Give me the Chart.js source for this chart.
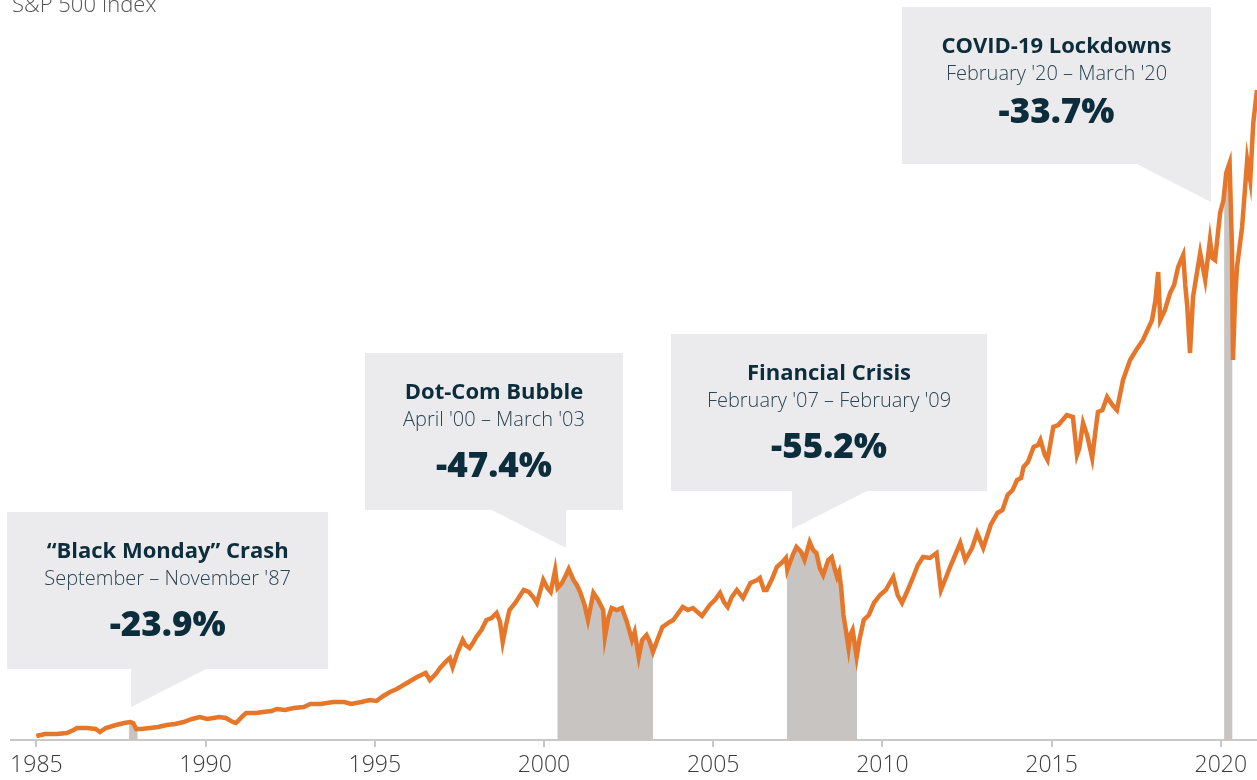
<!DOCTYPE html>
<html>
<head>
<meta charset="utf-8">
<script src="https://cdn.jsdelivr.net/npm/chart.js@4.4.1/dist/chart.umd.min.js"></script>
<style>
  html, body { margin: 0; padding: 0; background: #fff; }
  #wrap { width: 1257px; height: 780px; }
</style>
</head>
<body>
<div id="wrap"><canvas id="spChart" width="1257" height="780"></canvas></div>
<script>
// S&P 500 index level (chart units)
const dates = [1985.00,1985.25,1985.60,1985.90,1986.10,1986.20,1986.50,1986.75,1986.88,1987.05,1987.35,1987.60,1987.77,1987.86,1987.95,
  1988.10,1988.35,1988.60,1988.85,1989.10,1989.35,1989.60,1989.83,1990.05,1990.40,1990.60,1990.80,1990.90,1991.10,1991.20,1991.50,1991.70,1991.95,
  1992.10,1992.35,1992.60,1992.90,1993.10,1993.40,1993.77,1994.10,1994.30,1994.60,1994.85,1995.05,1995.25,1995.45,1995.65,1995.85,
  1996.05,1996.25,1996.50,1996.63,1996.80,1996.93,1997.15,1997.22,1997.30,1997.45,1997.60,1997.68,1997.80,1997.90,
  1998.00,1998.15,1998.30,1998.45,1998.60,1998.70,1998.78,1998.88,1998.98,1999.15,1999.40,1999.55,1999.68,1999.79,1999.98,
  2000.10,2000.20,2000.33,2000.40,2000.53,2000.65,2000.73,2000.87,2000.97,2001.07,2001.20,2001.30,2001.46,2001.60,2001.75,2001.80,2001.90,
  2002.00,2002.15,2002.30,2002.45,2002.60,2002.68,2002.80,2002.90,2003.03,2003.13,2003.22,2003.35,2003.50,2003.72,2003.82,
  2004.10,2004.25,2004.40,2004.67,2004.90,2005.05,2005.20,2005.32,2005.43,2005.55,2005.70,2005.88,
  2006.10,2006.30,2006.38,2006.50,2006.58,2006.75,2006.88,2007.05,2007.15,2007.19,2007.35,2007.46,2007.60,2007.70,2007.85,2007.95,
  2008.05,2008.15,2008.25,2008.40,2008.50,2008.60,2008.66,2008.72,2008.78,2008.85,2008.92,2009.00,2009.05,2009.12,2009.24,2009.32,
  2009.45,2009.60,2009.75,2009.93,2010.10,2010.32,2010.45,2010.58,2010.75,2010.91,2011.05,2011.20,2011.40,2011.60,2011.73,2011.85,
  2012.00,2012.30,2012.45,2012.65,2012.80,2012.98,2013.20,2013.40,2013.55,2013.70,2013.85,2013.98,
  2014.10,2014.17,2014.30,2014.47,2014.60,2014.67,2014.80,2014.88,2015.05,2015.20,2015.45,2015.63,2015.75,2015.82,2015.93,
  2016.05,2016.20,2016.30,2016.37,2016.50,2016.64,2016.80,2016.93,2017.11,2017.32,2017.50,2017.70,2017.97,
  2018.07,2018.15,2018.21,2018.35,2018.50,2018.62,2018.74,2018.89,2018.95,2019.01,2019.09,2019.18,2019.39,2019.54,2019.68,2019.75,2019.83,2019.98,
  2020.08,2020.16,2020.26,2020.33,2020.36,2020.42,2020.48,2020.63,2020.78,2020.87,2020.96,2021.07];

const spx = [40,60,60,70,100,120,120,110,80,120,150,170,180,170,110,
  110,120,130,150,160,180,210,230,210,230,220,180,170,240,270,270,280,290,
  310,300,320,330,360,360,380,380,360,380,400,390,440,480,510,550,
  590,630,670,600,660,720,800,820,730,880,1000,950,920,970,
  1030,1100,1200,1220,1270,1180,980,1150,1300,1370,1500,1480,1430,1370,1600,
  1520,1480,1700,1520,1570,1650,1710,1600,1550,1480,1350,1200,1470,1400,1300,1030,1220,
  1320,1300,1320,1180,1000,1080,830,1000,1050,980,880,1000,1130,1180,1200,
  1330,1300,1320,1240,1350,1400,1470,1380,1330,1430,1500,1420,
  1570,1600,1620,1500,1500,1620,1730,1780,1820,1700,1850,1930,1880,1800,1980,1900,
  1870,1720,1650,1800,1830,1700,1630,1680,1530,1250,1100,920,1050,1100,830,1000,
  1200,1250,1370,1450,1500,1630,1450,1370,1500,1630,1750,1830,1820,1870,1500,1600,
  1730,1970,1800,1920,2070,1920,2150,2270,2300,2450,2500,2600,
  2620,2730,2780,2930,2950,3000,2850,2800,3130,3150,3250,3230,2850,2920,3170,
  3050,2820,3100,3280,3300,3430,3350,3300,3600,3800,3900,4000,4200,
  4400,4680,4200,4300,4470,4550,4730,4850,4550,4330,3870,4430,4870,4600,5000,4820,4800,5270,
  5400,5670,5770,4930,3800,4400,4730,5130,5800,5600,6170,6500];

const tickYears = [1985, 1990, 1995, 2000, 2005, 2010, 2015, 2020];

const declineStart = [1987.74, 2000.40, 2007.18, 2020.10];
const declineEnd = [1987.99, 2003.22, 2009.25, 2020.34];

const calloutTitles = ["\u201cBlack Monday\u201d Crash", "Dot-Com Bubble", "Financial Crisis", "COVID-19 Lockdowns"];
const calloutPeriods = ["September \u2013 November '87", "April '00 \u2013 March '03", "February '07 \u2013 February '09", "February '20 \u2013 March '20"];
const calloutDrops = ["-23.9%", "-47.4%", "-55.2%", "-33.7%"];
// pointer tip of each bubble, in chart units
const calloutYear = [1987.80, 2000.65, 2007.33, 2019.71];
const calloutLevel = [330, 1920, 2110, 5380];

const FONT = '"Open Sans", "Noto Sans", sans-serif';
const NAVY = '#0c2d3c';

// box placement relative to pointer tip (pixels)
const bubbles = [
  { dx: -124, w: 321, side: 'left', numY: 114 },
  { dx: -201, w: 258, side: 'right', numY: 114 },
  { dx: -121, w: 316, side: 'left', numY: 114 },
  { dx: -309, w: 309, side: 'right', numY: 106 }
];

const declineShade = {
  id: 'declineShade',
  beforeDatasetsDraw(chart) {
    const ctx = chart.ctx;
    const area = chart.chartArea;
    const x = chart.scales.x;
    const pts = chart.getDatasetMeta(0).data;
    ctx.save();
    ctx.fillStyle = '#c8c4c1';
    for (let i = 0; i < declineStart.length; i++) {
      const x0 = x.getPixelForValue(declineStart[i]);
      const x1 = x.getPixelForValue(declineEnd[i]);
      ctx.save();
      ctx.beginPath();
      ctx.rect(x0, area.top, x1 - x0, area.bottom - area.top);
      ctx.clip();
      ctx.beginPath();
      ctx.moveTo(pts[0].x, area.bottom);
      pts.forEach(p => ctx.lineTo(p.x, p.y));
      ctx.lineTo(pts[pts.length - 1].x, area.bottom);
      ctx.closePath();
      ctx.fill();
      ctx.restore();
    }
    ctx.restore();
  }
};

const callouts = {
  id: 'callouts',
  afterDatasetsDraw(chart) {
    const ctx = chart.ctx;
    const x = chart.scales.x, y = chart.scales.y;
    ctx.save();
    bubbles.forEach((b, i) => {
      const tx = x.getPixelForValue(calloutYear[i]);
      const ty = y.getPixelForValue(calloutLevel[i]);
      const left = tx + b.dx, top = ty - 195, h = 157;
      ctx.fillStyle = '#ebebed';
      ctx.fillRect(left, top, b.w, h);
      ctx.beginPath();
      if (b.side === 'left') {
        ctx.moveTo(tx, top + h - 1);
        ctx.lineTo(tx + 77, top + h - 1);
      } else {
        ctx.moveTo(tx - 76, top + h - 1);
        ctx.lineTo(tx, top + h - 1);
      }
      ctx.lineTo(tx, ty);
      ctx.closePath();
      ctx.fill();

      const cx = left + b.w / 2;
      ctx.textAlign = 'center';
      ctx.textBaseline = 'middle';
      ctx.fillStyle = NAVY;
      ctx.font = 'bold 22px ' + FONT;
      ctx.fillText(calloutTitles[i], cx, top + 40);
      ctx.fillStyle = '#2a4452';
      ctx.font = '300 20px ' + FONT;
      ctx.fillText(calloutPeriods[i], cx, top + 67);
      ctx.fillStyle = NAVY;
      ctx.font = '800 35px ' + FONT;
      ctx.fillText(calloutDrops[i], cx, top + b.numY);
    });
    ctx.fillStyle = '#555';
    ctx.textAlign = 'left';
    ctx.textBaseline = 'alphabetic';
    ctx.font = '300 22px ' + FONT;
    ctx.fillText('S&P 500 Index', 12, 12);
    ctx.restore();
  }
};

var ctx = document.getElementById("spChart").getContext("2d");
var chart = new Chart(ctx, {
  type: 'line',
  data: {
    labels: dates,
    datasets: [{
      label: 'S&P 500 Index',
      data: dates.map((d, i) => ({ x: d, y: spx[i] })),
      borderColor: '#e5762a',
      borderWidth: 4.5,
      pointRadius: 0,
      tension: 0,
      fill: false
    }]
  },
  options: {
    responsive: false,
    animation: false,
    layout: { padding: { left: 11, right: 0, top: 0, bottom: 0 } },
    plugins: { legend: { display: false }, tooltip: { enabled: false } },
    scales: {
      x: {
        type: 'linear',
        min: 1984.25,
        max: 2021.07,
        afterBuildTicks: s => { s.ticks = tickYears.map(v => ({ value: v })); },
        afterFit: s => { s.height = 40; s.paddingLeft = 0; s.paddingRight = 0; },
        ticks: {
          autoSkip: false,
          maxRotation: 0,
          padding: 5,
          color: '#3a3a3a',
          font: { family: FONT, size: 23, weight: 300 },
          callback: v => String(v)
        },
        grid: { drawOnChartArea: false, drawTicks: true, tickLength: 7, color: '#c8c8c8', lineWidth: 2 },
        border: { display: true, color: '#c8c8c8', width: 2 }
      },
      y: {
        display: false,
        min: 0,
        max: 7400
      }
    }
  },
  plugins: [declineShade, callouts]
});
</script>
</body>
</html>
